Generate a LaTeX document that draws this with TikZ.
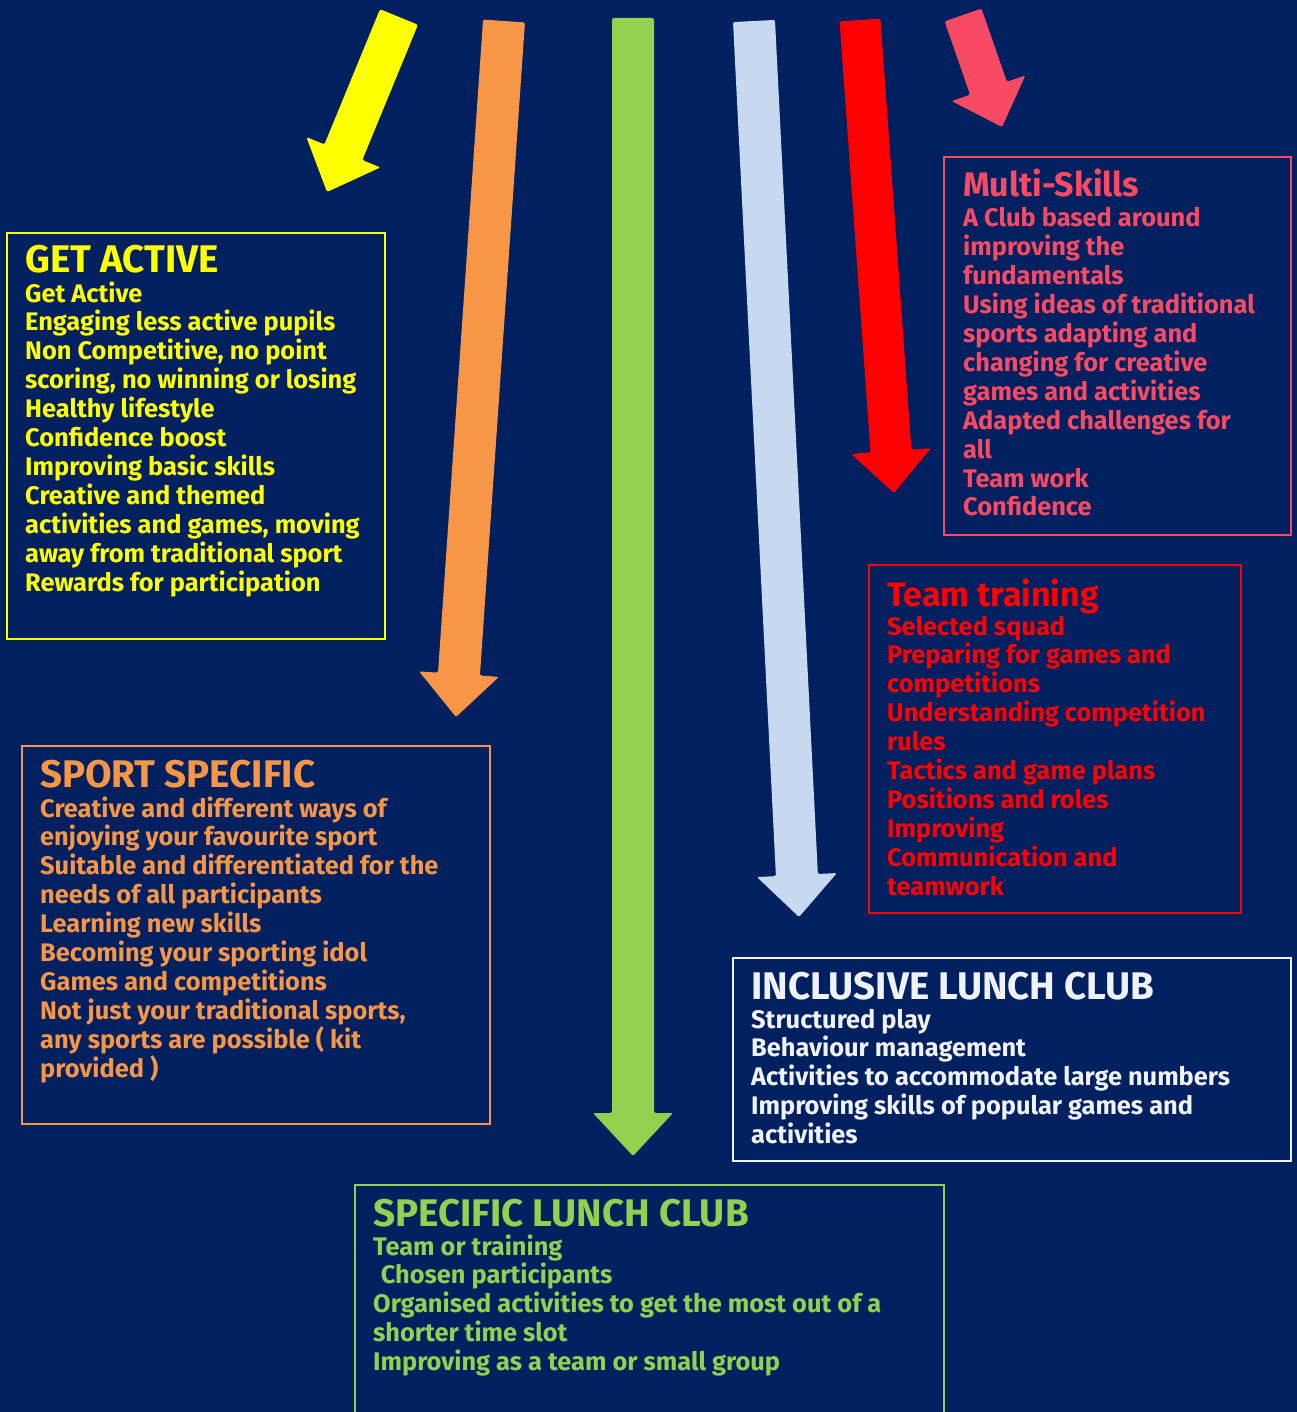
\documentclass[tikz,border=0pt]{standalone}
\usepackage{fontspec}
\setmainfont{Fira Sans}
\usetikzlibrary{calc}
\definecolor{navy}{RGB}{0,32,96}
\definecolor{cyellow}{RGB}{255,255,0}
\definecolor{corange}{RGB}{247,150,70}
\definecolor{cgreen}{RGB}{146,208,80}
\definecolor{cblue}{RGB}{198,217,241}
\definecolor{cred}{RGB}{255,0,0}
\definecolor{cpink}{RGB}{249,74,100}
\definecolor{cwhite}{RGB}{240,242,250}
\newcommand{\blockarrow}[7]{%
  \coordinate (#1s) at #3; \coordinate (#1t) at #4;
  \coordinate (#1h) at ($(#1t)!#7!(#1s)$);
  \fill[#2, rounded corners=2pt] ($(#1s)!#5!90:(#1t)$) -- ($(#1h)!#5!90:(#1t)$) -- ($(#1h)!#6!90:(#1t)$) -- (#1t) -- ($(#1h)!#6!-90:(#1t)$) -- ($(#1h)!#5!-90:(#1t)$) -- ($(#1s)!#5!-90:(#1t)$) -- cycle;}
\newcommand{\lines}[1]{\begingroup\lineskiplimit=-100pt\relax\let\\\cr\vtop{\halign{##\hfil\cr#1\crcr}}\endgroup}
\tikzset{
  panel/.style={draw, line width=1.6pt, anchor=north west, inner sep=0pt},
  titletext/.style={anchor=base west, inner sep=0pt, font=\bfseries\fontsize{38.5}{44}\selectfont},
  bodytext/.style={anchor=base west, inner sep=0pt, font=\bfseries\fontsize{25.4}{28.9}\selectfont},
}
\begin{document}
\begin{tikzpicture}[x=1pt,y=-1pt]
\fill[navy] (0,0) rectangle (1297,1412);
\useasboundingbox (0,0) rectangle (1297,1412);

% arrows
\blockarrow{ya}{cyellow}{(399,17)}{(327,192)}{20.5pt}{40pt}{43pt}
\blockarrow{oa}{corange}{(504,21)}{(456,717)}{21pt}{40pt}{43pt}
\blockarrow{ga}{cgreen}{(633,18)}{(633,1156)}{21pt}{40pt}{43pt}
\blockarrow{ba}{cblue}{(754,21)}{(799,917)}{21pt}{40pt}{42pt}
\blockarrow{ra}{cred}{(860,20)}{(894,493)}{20.5pt}{40pt}{42pt}
\blockarrow{pa}{cpink}{(963,15)}{(1002,127)}{19.5pt}{39pt}{41pt}

% GET ACTIVE
\node[panel, draw=cyellow, minimum width=378pt, minimum height=406pt] (gaBox) at (6,232) {};
\node[titletext, text=cyellow] (gaTitle) at (25,273) {GET ACTIVE};
\node[bodytext, text=cyellow] (gaBody) at (25,302) {\lines{Get Active\\
Engaging less active pupils\\
Non Competitive, no point\\
scoring, no winning or losing\\
Healthy lifestyle\\
Confidence boost\\
Improving basic skills\\
Creative and themed\\
activities and games, moving\\
away from traditional sport\\
Rewards for participation}};

% SPORT SPECIFIC
\node[panel, draw=corange, minimum width=468pt, minimum height=378pt] (ssBox) at (21,745) {};
\node[titletext, text=corange] (ssTitle) at (40,787) {SPORT SPECIFIC};
\node[bodytext, text=corange] (ssBody) at (40,817) {\lines{Creative and different ways of\\
enjoying your favourite sport\\
Suitable and differentiated for the\\
needs of all participants\\
Learning new skills\\
Becoming your sporting idol\\
Games and competitions\\
Not just your traditional sports,\\
any sports are possible ( kit\\
provided )}};

% SPECIFIC LUNCH CLUB
\node[panel, draw=cgreen, minimum width=589pt, minimum height=240pt] (slBox) at (354,1184) {};
\node[titletext, text=cgreen] (slTitle) at (373,1226) {SPECIFIC LUNCH CLUB};
\node[bodytext, text=cgreen] (slBody) at (373,1255) {\lines{Team or training\\
\hspace{0.3em}Chosen participants\\
Organised activities to get the most out of a\\
shorter time slot\\
Improving as a team or small group}};

% INCLUSIVE LUNCH CLUB
\node[panel, draw=cwhite, minimum width=558pt, minimum height=203pt] (ilBox) at (732,957) {};
\node[titletext, text=cwhite] (ilTitle) at (751,999) {INCLUSIVE LUNCH CLUB};
\node[bodytext, text=cwhite] (ilBody) at (751,1028) {\lines{Structured play\\
Behaviour management\\
Activities to accommodate large numbers\\
Improving skills of popular games and\\
activities}};

% Team training
\node[panel, draw=cred, minimum width=372pt, minimum height=348pt] (ttBox) at (868,564) {};
\node[titletext, text=cred, font=\bfseries\fontsize{34}{40}\selectfont] (ttTitle) at (887,606) {Team training};
\node[bodytext, text=cred] (ttBody) at (887,635) {\lines{Selected squad\\
Preparing for games and\\
competitions\\
Understanding competition\\
rules\\
Tactics and game plans\\
Positions and roles\\
Improving\\
Communication and\\
teamwork}};

% Multi-Skills
\node[panel, draw=cpink, minimum width=347pt, minimum height=378pt] (msBox) at (943,156) {};
\node[titletext, text=cpink, font=\bfseries\fontsize{34}{40}\selectfont] (msTitle) at (963,197) {Multi-Skills};
\node[bodytext, text=cpink] (msBody) at (963,227) {\lines{A Club based around\\
improving the\\
fundamentals\\
Using ideas of traditional\\
sports adapting and\\
changing for creative\\
games and activities\\
Adapted challenges for\\
all\\
Team work\\
Confidence}};
\end{tikzpicture}
\end{document}
